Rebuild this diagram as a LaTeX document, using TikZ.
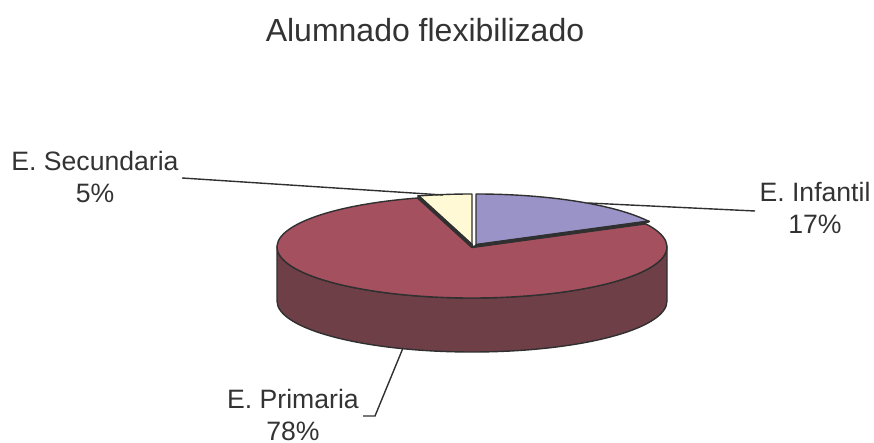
\documentclass[tikz,border=0pt]{standalone}
\usepackage{fontspec}
\setmainfont{Liberation Sans}
\usetikzlibrary{calc}
\definecolor{txt}{HTML}{333333}
\definecolor{edge}{HTML}{303030}
\definecolor{redtop}{HTML}{A4505F}
\definecolor{redside}{HTML}{6F3F48}
\definecolor{purp}{HTML}{9A93C7}
\definecolor{yell}{HTML}{FFFAD5}
\tikzset{
  lbl/.style={anchor=base, inner sep=0pt, text=txt, font=\fontsize{26.6}{32}\selectfont},
  ttl/.style={anchor=base, inner sep=0pt, text=txt, font=\fontsize{32}{38}\selectfont},
  rim/.style={draw=edge, line width=1.4pt, line join=round},
  radial/.style={draw=edge, line width=2.4pt, line cap=round},
  leader/.style={draw=edge, line width=1.4pt},
}
\begin{document}
\begin{tikzpicture}[x=1pt,y=1pt]
\useasboundingbox (0,0) rectangle (874,443);
% centres
\coordinate (C) at (472,196);
\coordinate (CI) at (476,198);
\coordinate (CS) at (472,198);
% side band (front half of primaria)
\path[rim, fill=redside] ($(C)+(-195,0)$) -- ++(0,-54)
  arc[start angle=180, end angle=360, x radius=195, y radius=51]
  -- ++(0,54)
  arc[start angle=0, end angle=-180, x radius=195, y radius=51] -- cycle;
% primaria top
\path[rim, fill=redtop] (C) -- ($(C)+(106:195 and 51)$)
  arc[start angle=106, end angle=387.5, x radius=195, y radius=51] -- cycle;
\draw[radial] ($(C)+(106:195 and 51)$) -- (C) -- ($(C)+(27.5:195 and 51)$);
% secundaria slice
\path[rim, fill=yell] (CS) -- ($(CS)+(90:195 and 51)$)
  arc[start angle=90, end angle=106, x radius=195, y radius=51] -- cycle;
\draw[radial] ($(CS)+(106:195 and 51)$) -- (CS);
% infantil slice
\path[rim, fill=purp] (CI) -- ($(CI)+(27.5:195 and 51)$)
  arc[start angle=27.5, end angle=90, x radius=195, y radius=51] -- cycle;
\draw[radial] ($(CI)+(27.5:195 and 51)$) -- (CI);
% texts
\node[ttl] (title) at (425,401) {Alumnado flexibilizado};
\node[lbl] (secN) at (95,272) {E. Secundaria};
\node[lbl] (secP) at (95,240) {5\%};
\node[lbl] (infN) at (815,241) {E. Infantil};
\node[lbl] (infP) at (815,209) {17\%};
\node[lbl] (priN) at (293,34) {E. Primaria};
\node[lbl] (priP) at (293,2.5) {78\%};
% leader lines
\coordinate (secA) at (182,265);
\coordinate (secB) at (443,248);
\coordinate (infA) at (755,232);
\coordinate (infB) at (588,240);
\coordinate (priA) at (363,27);
\coordinate (priK) at (375,27);
\coordinate (priB) at (403,95);
\draw[leader] (secA) -- (secB);
\draw[leader] (infA) -- (infB);
\draw[leader] (priA) -- (priK) -- (priB);
\end{tikzpicture}
\end{document}
